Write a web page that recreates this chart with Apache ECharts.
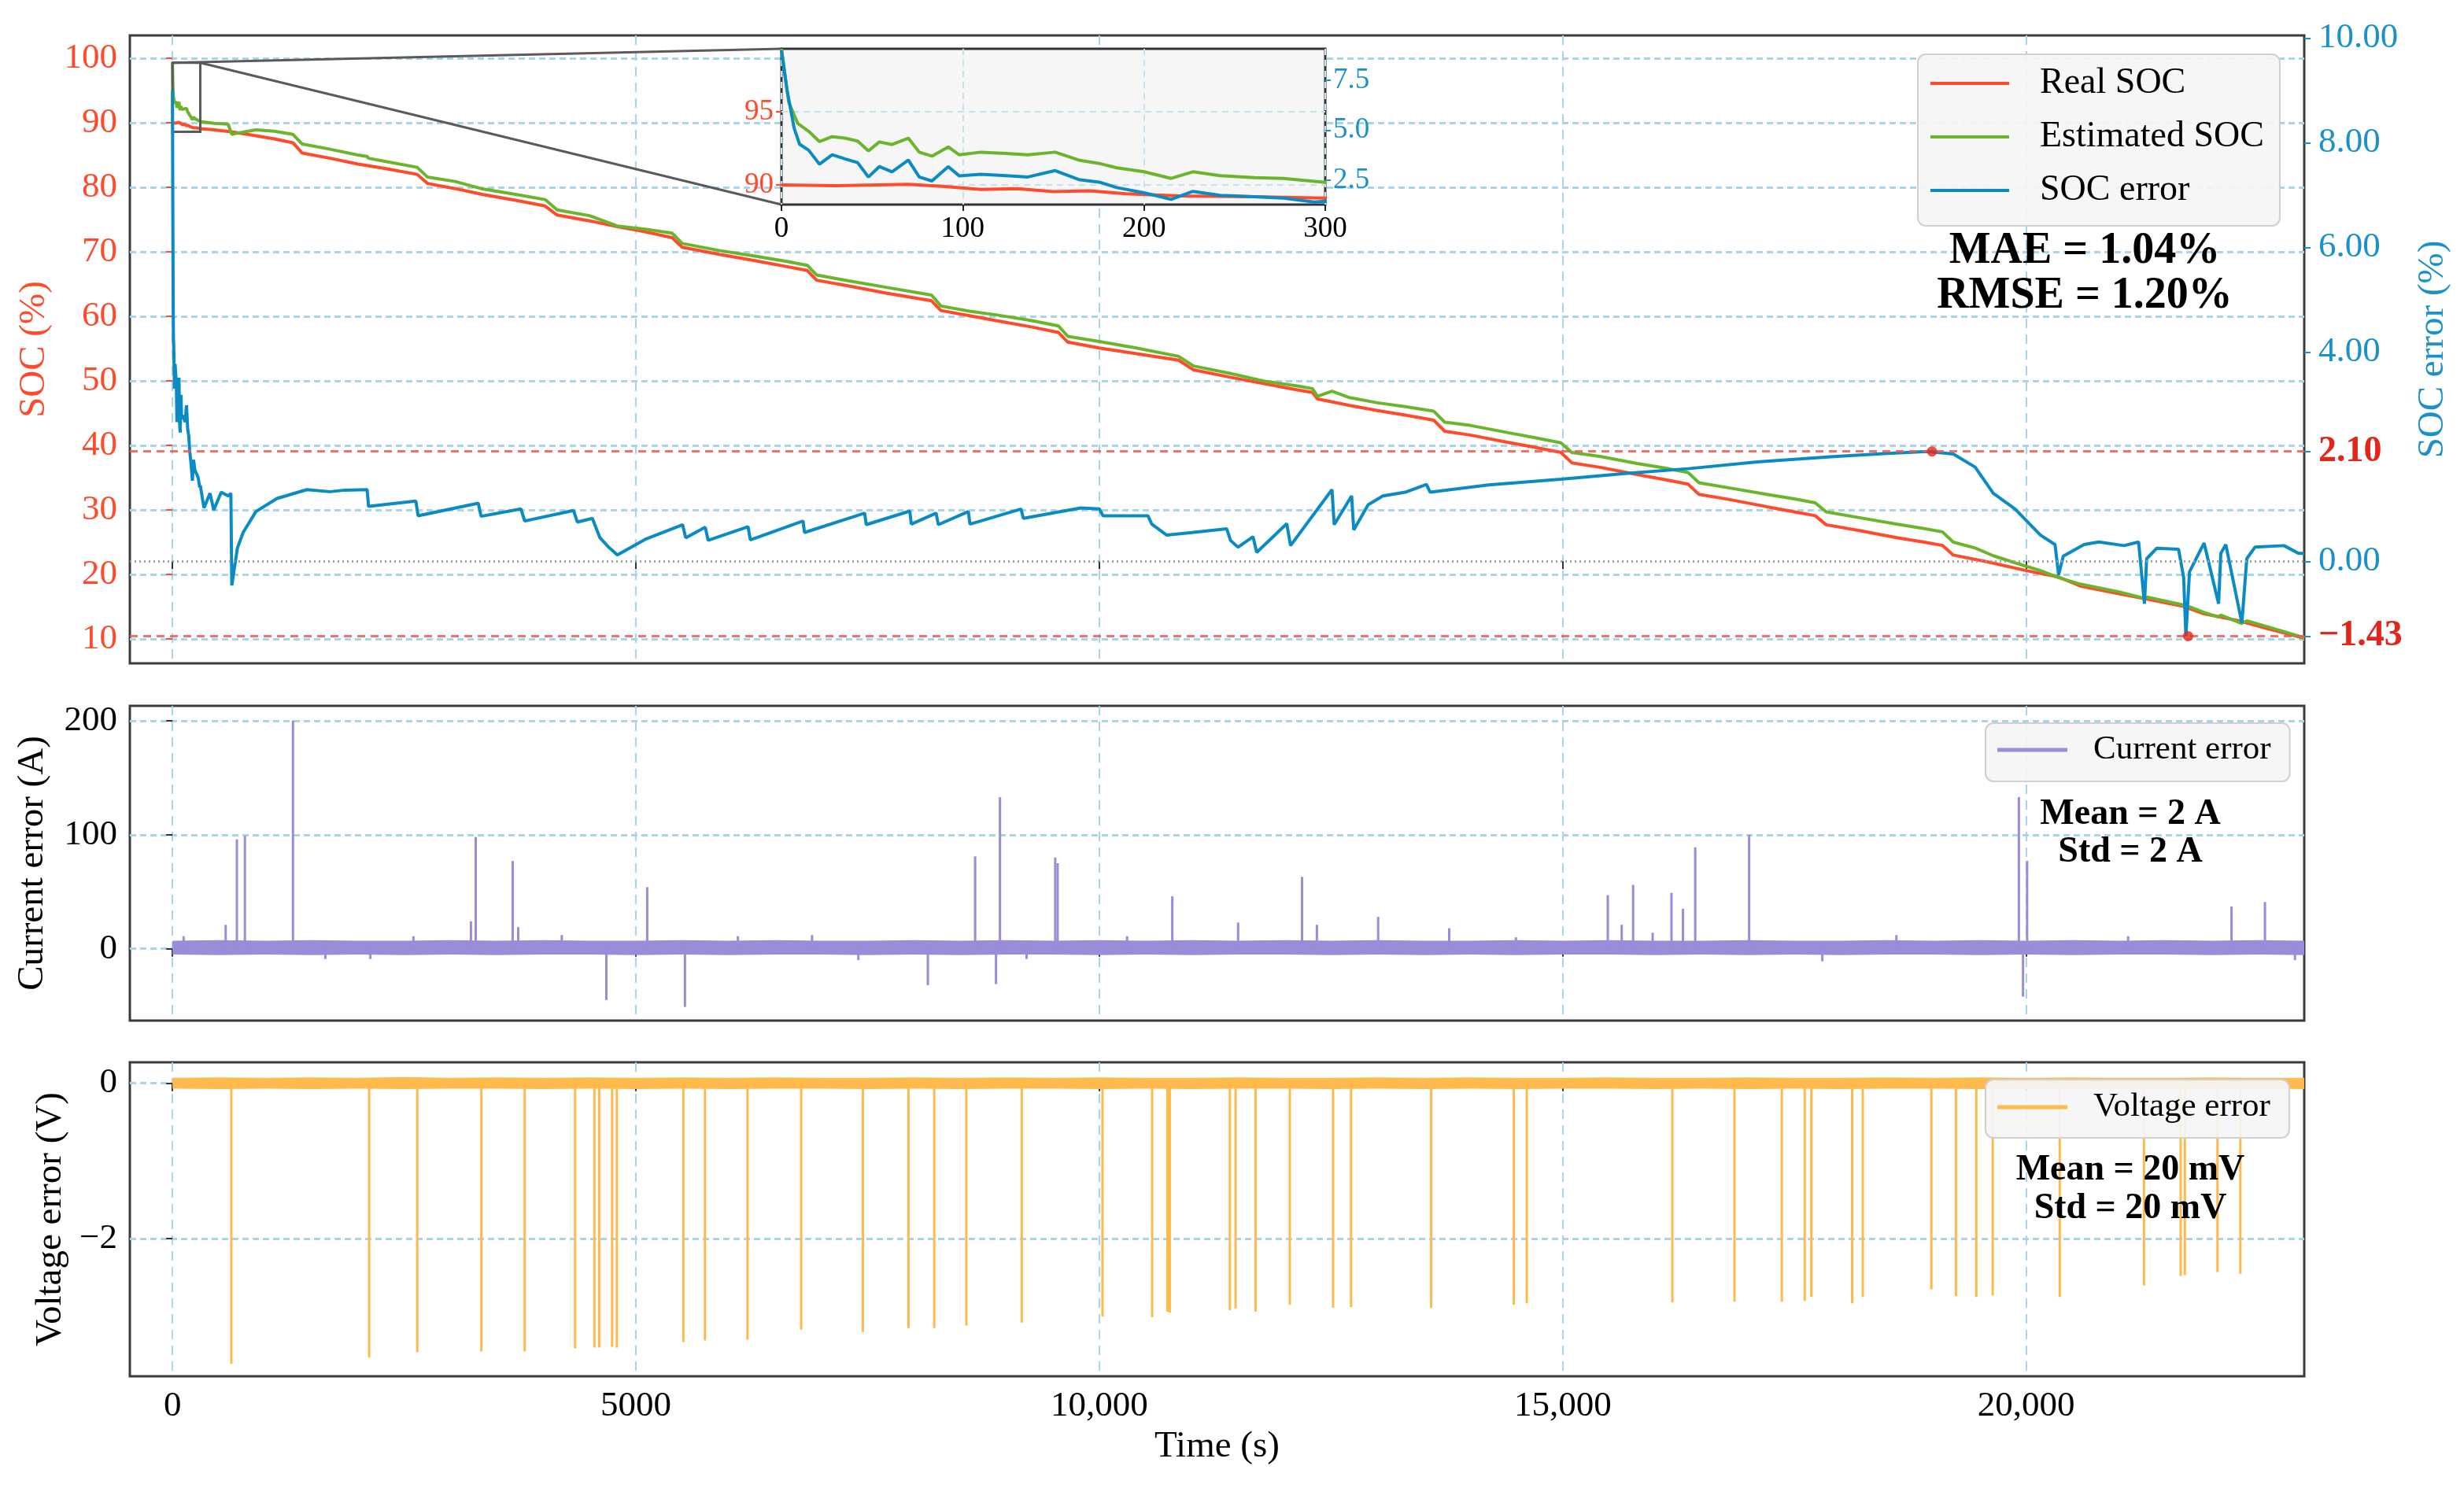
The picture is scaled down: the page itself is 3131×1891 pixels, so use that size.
<!DOCTYPE html>
<html>
<head>
<meta charset="utf-8">
<title>SOC estimation with sensor errors</title>
<script src="https://cdn.jsdelivr.net/npm/echarts@6.0.0/dist/echarts.min.js"></script>
<style>
  html, body { margin: 0; padding: 0; background: #fff; }
  #chart { width: 3131px; height: 1891px; }
</style>
</head>
<body>
<div id="chart"></div>
<script>
const FONT = '"Liberation Serif", "Times New Roman", serif';
const RED = '#FF4A2B', GREEN = '#6BB52C', BLUE = '#0B8BC4';
const PURPLE = '#9A8CD9', ORANGE = '#FFBA4E';
const LABEL_RED = '#FF4A2B', LABEL_BLUE = '#1A92C9', MARK_RED = '#E3261C';
const GRID_BLUE = '#A9D5EC';

// tick values
const timeTicks = [0, 5000, 10000, 15000, 20000];
const socTicks = [10, 20, 30, 40, 50, 60, 70, 80, 90, 100];
const errorTicks = [10, 8, 6, 4, 2.1, 0, -1.43];
const currentTicks = [0, 100, 200];
const voltageTicks = [0, -2];
const insetSocTicks = [90, 95];
const insetErrorTicks = [2.5, 5.0, 7.5];

// [time s, SOC %]
const realSoc = [[0,90.0],[30,89.95],[70,90.05],[90,89.9],[110,89.7],[130,89.75],[150,89.55],[170,89.6],[190,89.4],[220,89.25],[260,89.2],[300,89.1],[450,88.9],[636,88.6],[900,88.0],[1100,87.5],[1300,86.9],[1400,85.3],[1700,84.5],[2000,83.6],[2300,82.9],[2640,82.0],[2750,80.6],[3050,79.8],[3341,78.9],[3700,78.0],[4020,77.1],[4150,75.7],[4500,74.8],[4800,73.9],[5100,73.1],[5390,72.2],[5500,70.7],[5900,69.6],[6260,68.7],[6630,67.7],[6850,67.1],[6950,65.6],[7300,64.7],[7700,63.6],[8190,62.4],[8290,60.9],[8600,60.1],[8900,59.3],[9250,58.4],[9560,57.5],[9660,56.0],[10000,55.1],[10400,54.2],[10856,53.2],[11017,51.7],[11400,50.6],[11800,49.5],[12136,48.6],[12300,48.2],[12354,47.2],[12700,46.2],[13000,45.4],[13300,44.7],[13608,43.9],[13726,42.2],[14000,41.6],[14400,40.5],[14700,39.7],[14980,38.9],[15097,37.3],[15400,36.6],[15800,35.5],[16100,34.7],[16352,34.0],[16470,32.4],[16800,31.6],[17200,30.5],[17500,29.7],[17724,29.1],[17842,27.7],[18200,26.8],[18600,25.7],[18900,25.0],[19096,24.5],[19214,23.0],[19600,21.9],[20000,20.6],[20350,19.6],[20585,18.2],[21000,17.0],[21300,16.2],[21684,15.1],[21919,13.9],[22300,12.8],[22600,11.6],[23000,10.1]];

const estimatedSoc = [[0,99.3],[4,95.65],[9,94.2],[15,93.67],[21,92.96],[28,93.3],[35,93.2],[42,93.0],[48,92.33],[54,92.94],[61,92.76],[70,93.2],[76,92.24],[83,91.97],[92,92.6],[98,92.06],[110,92.24],[124,92.15],[136,92.06],[151,92.24],[164,91.7],[176,91.45],[185,91.17],[200,90.9],[215,90.45],[227,90.9],[242,90.63],[261,90.5],[277,90.45],[300,90.18],[450,89.9],[600,89.8],[640,88.2],[700,88.4],[900,88.9],[1100,88.7],[1300,88.2],[1400,86.7],[1700,85.9],[2000,85.0],[2100,84.8],[2115,84.5],[2300,84.0],[2640,83.1],[2750,81.6],[3050,80.9],[3330,79.8],[3700,78.9],[4020,78.1],[4150,76.5],[4500,75.6],[4800,74.0],[5100,73.5],[5390,72.9],[5500,71.3],[5900,70.2],[6260,69.4],[6630,68.5],[6850,67.9],[6950,66.4],[7300,65.5],[7700,64.5],[8190,63.3],[8290,61.6],[8600,60.8],[8900,60.2],[9250,59.4],[9560,58.5],[9660,56.9],[10000,56.1],[10400,55.1],[10856,53.8],[11017,52.3],[11400,51.2],[11800,49.9],[12136,49.2],[12300,48.8],[12354,47.6],[12510,48.4],[12700,47.4],[13000,46.6],[13300,46.0],[13608,45.3],[13726,43.6],[14000,43.1],[14400,42.0],[14700,41.2],[14980,40.4],[15097,38.9],[15400,38.3],[15800,37.2],[16100,36.5],[16352,35.8],[16470,34.2],[16800,33.4],[17200,32.4],[17500,31.7],[17724,31.1],[17842,29.7],[18200,28.8],[18600,27.8],[18900,27.1],[19096,26.6],[19214,25.0],[19449,24.1],[19645,22.9],[19880,21.8],[20155,20.6],[20350,19.5],[20585,18.5],[21000,17.3],[21276,16.3],[21300,16.5],[21684,15.3],[21723,14.6],[21762,15.0],[21919,14.1],[22076,13.4],[22100,13.7],[22327,12.4],[22380,12.8],[22600,11.9],[23000,10.2]];

// [time s, SOC error %]
const socError = [[0,9.0],[3,7.05],[7,5.1],[10,4.3],[15,4.0],[21,3.3],[28,3.77],[35,3.57],[42,3.38],[48,2.66],[54,3.18],[61,2.92],[70,3.51],[76,2.66],[83,2.46],[92,3.18],[98,2.72],[110,2.79],[124,2.73],[136,2.66],[151,2.98],[164,2.53],[176,2.39],[185,2.13],[200,1.87],[215,1.54],[227,1.94],[242,1.74],[261,1.67],[277,1.6],[294,1.41],[300,1.45],[340,1.02],[405,1.30],[445,0.98],[526,1.32],[600,1.25],[630,1.30],[640,-0.46],[700,0.25],[762,0.55],[900,0.95],[1127,1.2],[1450,1.37],[1700,1.33],[1856,1.36],[2100,1.37],[2115,1.05],[2626,1.15],[2650,0.87],[3299,1.11],[3330,0.86],[3760,1.0],[3800,0.77],[4327,0.97],[4368,0.75],[4530,0.82],[4612,0.45],[4700,0.28],[4800,0.12],[5100,0.42],[5504,0.70],[5537,0.45],[5748,0.65],[5780,0.40],[6210,0.66],[6235,0.41],[6803,0.77],[6819,0.55],[7468,0.92],[7485,0.70],[7955,0.96],[7971,0.71],[8239,0.92],[8263,0.70],[8587,0.95],[8604,0.71],[9155,1.0],[9180,0.82],[9800,1.02],[10000,1.0],[10040,0.87],[10525,0.87],[10566,0.71],[10728,0.50],[11000,0.55],[11375,0.62],[11415,0.40],[11496,0.27],[11658,0.47],[11698,0.17],[12022,0.72],[12063,0.30],[12510,1.37],[12534,0.70],[12722,1.25],[12745,0.60],[12900,1.08],[13059,1.25],[13300,1.32],[13530,1.47],[13569,1.32],[14200,1.46],[14980,1.57],[15700,1.68],[16352,1.77],[17100,1.90],[17920,2.0],[18500,2.06],[18940,2.10],[19214,2.05],[19449,1.80],[19645,1.30],[19880,1.0],[20155,0.50],[20311,0.32],[20350,-0.26],[20400,0.10],[20625,0.32],[20782,0.37],[21056,0.30],[21213,0.37],[21276,-0.81],[21300,0.05],[21409,0.25],[21644,0.23],[21699,-0.31],[21723,-1.43],[21762,-0.20],[21919,0.35],[22076,-0.81],[22100,0.15],[22154,0.32],[22327,-1.18],[22380,0.05],[22468,0.27],[22782,0.30],[22938,0.15],[23000,0.15]];

// max / min SOC error markers
const errorExtremes = [[18984, 2.10], [21747, -1.43]];

// zoomed region: [t0, soc0, t1, soc1]
const zoomBox = [[0, 88.6, 300, 99.3]];

// sensor noise envelope
const noiseTime = [0,500,1000,1500,2000,2500,3000,3500,4000,4500,5000,5500,6000,6500,7000,7500,8000,8500,9000,9500,10000,10500,11000,11500,12000,12500,13000,13500,14000,14500,15000,15500,16000,16500,17000,17500,18000,18500,19000,19500,20000,20500,21000,21500,22000,22500,23000];
const currentHigh = [7,7.5,7,7.5,7,7,7.5,7,7.5,7, 7,7.5,7,7.5,7,7,7.5,7,7.5,7, 7.5,7,7.5,7,7.5,7,7.5,7,7,7.5, 7,7.5,7,7,7.5,7,7,7.5,7,7.5, 7,7.5,7,7.5,7,7.5,7];
const currentLow = [-5,-5.5,-5,-5.5,-5,-5.5,-5,-5.5,-5,-5, -5.5,-5,-5.5,-5,-5,-5.5,-5,-5.5,-5,-5, -5.5,-5,-5.5,-5,-5,-5.5,-5,-5.5,-5,-5.5, -5,-5,-5.5,-5,-5.5,-5,-5.5,-5,-5,-5.5, -5,-5.5,-5,-5,-5.5,-5,-5.5];
const voltageHigh = [0.07,0.075,0.07,0.075,0.07,0.08,0.07,0.075,0.07,0.075, 0.07,0.075,0.07,0.075,0.07,0.07,0.075,0.07,0.075,0.07, 0.075,0.07,0.07,0.075,0.07,0.07,0.075,0.07,0.075,0.07, 0.07,0.075,0.07,0.07,0.075,0.07,0.07,0.075,0.07,0.075, 0.07,0.075,0.07,0.07,0.075,0.07,0.07];
const voltageLow = [-0.07,-0.075,-0.07,-0.075,-0.07,-0.075,-0.07,-0.07,-0.075,-0.07, -0.075,-0.07,-0.075,-0.07,-0.07,-0.075,-0.07,-0.075,-0.07,-0.07, -0.075,-0.07,-0.075,-0.07,-0.07,-0.075,-0.07,-0.075,-0.07,-0.075, -0.07,-0.07,-0.075,-0.07,-0.075,-0.07,-0.075,-0.07,-0.07,-0.075, -0.07,-0.075,-0.07,-0.07,-0.075,-0.07,-0.075];

// [time s, current error A] (incl. small noise peaks)
const currentSpikes = [[120,11],[574,21],[695,96],[781,99],[1300,200],[1650,-9],[2135,-9],[2600,11],[3220,24],[3272,98],[3670,77],[3730,19],[4200,12],[4681,-45],[5122,54],[5529,-51],[6100,11],[6900,12],[7400,-10],[8150,-32],[8660,81],[8885,-31],[8928,133],[9215,-9],[9524,80],[9550,75],[10300,11],[10787,46],[11497,23],[12187,63],[12347,21],[13008,28],[13775,18],[14495,10],[15486,47],[15636,21],[15759,56],[15970,14],[16173,49],[16297,35],[16429,89],[17011,100],[17800,-11],[18600,12],[19921,133],[19966,-42],[20010,77],[21100,11],[22215,37],[22576,41],[22900,-10]];

// [time s, voltage error V]
const voltageSpikes = [[635,-3.61],[2122,-3.53],[2641,-3.46],[3332,-3.45],[3800,-3.45],[4344,-3.41],[4552,-3.40],[4604,-3.40],[4743,-3.39],[4794,-3.40],[5512,-3.33],[5745,-3.31],[6204,-3.30],[6783,-3.17],[7449,-3.20],[7941,-3.15],[8219,-3.15],[8565,-3.12],[9163,-3.08],[10034,-3.00],[10570,-3.01],[10735,-2.94],[10760,-2.95],[11408,-2.92],[11470,-2.90],[11685,-2.94],[12055,-2.85],[12522,-2.89],[12716,-2.88],[13580,-2.89],[14471,-2.85],[14612,-2.83],[16182,-2.82],[16853,-2.81],[17364,-2.81],[17610,-2.80],[17682,-2.75],[18122,-2.83],[18237,-2.75],[18977,-2.65],[19242,-2.74],[19462,-2.75],[19639,-2.73],[20362,-2.75],[21271,-2.60],[21667,-2.48],[21712,-2.47],[22064,-2.43],[22311,-2.45]];

// layout
const PLOT_LEFT = 165, PLOT_WIDTH = 2763;
const INSET = { left: 993, top: 62, width: 691, height: 198 };

function minus(v, digits) {
  const s = Math.abs(v).toFixed(digits);
  return v < 0 ? '\u2212' + s : s;
}
function timeLabel(v) {
  return v >= 10000 ? v.toLocaleString('en-US') : String(v);
}

function bandRenderer(lows, highs) {
  return function (params, api) {
    const upper = noiseTime.map((t, i) => api.coord([t, highs[i]]));
    const lower = noiseTime.map((t, i) => api.coord([t, lows[i]])).reverse();
    return { type: 'polygon', shape: { points: upper.concat(lower) }, style: { fill: api.visual('color') } };
  };
}
function spikeRenderer(params, api) {
  const base = api.coord([api.value(0), 0]);
  const tip = api.coord([api.value(0), api.value(1)]);
  return { type: 'line', shape: { x1: base[0], y1: base[1], x2: tip[0], y2: tip[1] },
           style: { stroke: api.visual('color'), lineWidth: 3 } };
}
function zoomBoxRenderer(params, api) {
  const tl = api.coord([api.value(0), api.value(3)]);
  const br = api.coord([api.value(2), api.value(1)]);
  const st = { stroke: '#5a5a5a', lineWidth: 3, fill: 'none' };
  return { type: 'group', children: [
    { type: 'rect', shape: { x: tl[0], y: tl[1], width: br[0] - tl[0], height: br[1] - tl[1] }, style: st },
    { type: 'line', shape: { x1: tl[0], y1: tl[1], x2: INSET.left, y2: INSET.top }, style: st },
    { type: 'line', shape: { x1: br[0], y1: tl[1], x2: INSET.left, y2: INSET.top + INSET.height }, style: st }
  ] };
}

function frame(top, height, extra) {
  return Object.assign({ left: PLOT_LEFT, width: PLOT_WIDTH, top: top, height: height, show: true,
    backgroundColor: '#fff', borderColor: '#3a3a3a', borderWidth: 3, containLabel: false, outerBoundsMode: 'none' }, extra || {});
}
function timeAxis(gridIndex, showLabels) {
  return {
    gridIndex: gridIndex, type: 'value', min: -460, max: 23000,
    axisLine: { show: false },
    axisTick: { show: true, customValues: timeTicks, length: 10, lineStyle: { color: '#333', width: 2 } },
    axisLabel: { show: showLabels, customValues: timeTicks, formatter: timeLabel, color: '#000',
                 fontSize: 45, fontFamily: FONT, margin: 16 },
    splitLine: { show: true, lineStyle: { color: GRID_BLUE, width: 2, type: [12, 8] } },
    name: showLabels ? 'Time (s)' : '', nameLocation: 'middle', nameGap: 66,
    nameTextStyle: { color: '#000', fontSize: 47, fontFamily: FONT }
  };
}
const hSplit = { show: true, lineStyle: { color: GRID_BLUE, width: 3, type: [8, 5] } };
const legendBox = {
  orient: 'vertical', selectedMode: false,
  backgroundColor: 'rgba(245,245,245,0.92)', borderColor: '#d0d0d0', borderWidth: 2, borderRadius: 10
};

const chart = echarts.init(document.getElementById('chart'), null, { renderer: 'canvas' });

chart.setOption({
  animation: false,
  backgroundColor: '#fff',
  textStyle: { fontFamily: FONT },
  grid: [
    frame(45, 798),
    frame(897, 400),
    frame(1350, 399),
    { left: INSET.left, top: INSET.top, width: INSET.width, height: INSET.height, show: true,
      backgroundColor: '#f6f6f6', borderColor: '#333', borderWidth: 3, z: 5, containLabel: false, outerBoundsMode: 'none' }
  ],
  xAxis: [
    timeAxis(0, false),
    timeAxis(1, false),
    timeAxis(2, true),
    { gridIndex: 3, type: 'value', min: 0, max: 300, interval: 100, z: 6,
      axisLine: { show: false },
      axisTick: { show: true, length: 8, lineStyle: { color: '#222', width: 2 } },
      axisLabel: { color: '#000', fontSize: 37, fontFamily: FONT, margin: 13 },
      splitLine: { show: true, lineStyle: { color: '#C6E2F1', width: 2, type: [8, 6] } } }
  ],
  yAxis: [
    { gridIndex: 0, type: 'value', min: 6.22, max: 103.54, position: 'left',
      axisLine: { show: false },
      axisTick: { show: true, customValues: socTicks, length: 8, lineStyle: { color: LABEL_RED, width: 2 } },
      axisLabel: { customValues: socTicks, color: LABEL_RED, fontSize: 45, fontFamily: FONT, margin: 16 },
      splitLine: hSplit,
      name: 'SOC (%)', nameLocation: 'middle', nameGap: 98,
      nameTextStyle: { color: LABEL_RED, fontSize: 47, fontFamily: FONT } },
    { gridIndex: 0, type: 'value', min: -1.95, max: 10.05, position: 'right',
      axisLine: { show: false },
      axisTick: { show: true, customValues: errorTicks, length: 8, lineStyle: { color: LABEL_BLUE, width: 2 } },
      axisLabel: { customValues: errorTicks, color: LABEL_BLUE, fontSize: 45, fontFamily: FONT, margin: 18,
        formatter: function (v) {
          const s = minus(v, 2);
          return (v === 2.1 || v === -1.43) ? '{hl|' + s + '}' : s;
        },
        rich: { hl: { color: MARK_RED, fontWeight: 'bold', fontSize: 46, fontFamily: FONT } } },
      splitLine: { show: false },
      name: 'SOC error (%)', nameLocation: 'middle', nameGap: 140,
      nameTextStyle: { color: LABEL_BLUE, fontSize: 47, fontFamily: FONT } },
    { gridIndex: 1, type: 'value', min: -63, max: 213,
      axisLine: { show: false },
      axisTick: { show: true, customValues: currentTicks, length: 8, lineStyle: { color: '#333', width: 2 } },
      axisLabel: { customValues: currentTicks, color: '#000', fontSize: 45, fontFamily: FONT, margin: 16 },
      splitLine: hSplit,
      name: 'Current error (A)', nameLocation: 'middle', nameGap: 100,
      nameTextStyle: { color: '#000', fontSize: 47, fontFamily: FONT } },
    { gridIndex: 2, type: 'value', min: -3.77, max: 0.27,
      axisLine: { show: false },
      axisTick: { show: true, customValues: voltageTicks, length: 8, lineStyle: { color: '#333', width: 2 } },
      axisLabel: { customValues: voltageTicks, color: '#000', fontSize: 45, fontFamily: FONT, margin: 16,
                   formatter: v => minus(v, 0) },
      splitLine: hSplit,
      name: 'Voltage error (V)', nameLocation: 'middle', nameGap: 77,
      nameTextStyle: { color: '#000', fontSize: 47, fontFamily: FONT } },
    { gridIndex: 3, type: 'value', min: 88.66, max: 99.3, position: 'left', z: 6,
      axisLine: { show: false },
      axisTick: { show: true, customValues: insetSocTicks, length: 7, lineStyle: { color: LABEL_RED, width: 2 } },
      axisLabel: { customValues: insetSocTicks, color: LABEL_RED, fontSize: 37, fontFamily: FONT, margin: 10 },
      splitLine: { show: true, lineStyle: { color: '#C6E2F1', width: 2, type: [8, 6] } } },
    { gridIndex: 3, type: 'value', min: 1.28, max: 9.07, position: 'right', z: 6,
      axisLine: { show: false },
      axisTick: { show: true, customValues: insetErrorTicks, length: 7, lineStyle: { color: LABEL_BLUE, width: 2 } },
      axisLabel: { customValues: insetErrorTicks, color: LABEL_BLUE, fontSize: 37, fontFamily: FONT, margin: 10,
                   formatter: v => v.toFixed(1) },
      splitLine: { show: false } }
  ],
  legend: [
    Object.assign({ left: 2437, top: 69,
      data: [{ name: 'Real SOC', icon: 'rect' }, { name: 'Estimated SOC', icon: 'rect' }, { name: 'SOC error', icon: 'rect' }],
      itemWidth: 100, itemHeight: 4, itemGap: 18, padding: [12, 20, 20, 16],
      textStyle: { fontSize: 46, fontFamily: FONT, color: '#000', lineHeight: 50, padding: [0, 0, 0, 34] } }, legendBox),
    Object.assign({ left: 2523, top: 919,
      data: [{ name: 'Current error', icon: 'rect' }],
      itemWidth: 89, itemHeight: 5, padding: [11, 24, 17, 15],
      textStyle: { fontSize: 43, fontFamily: FONT, color: '#000', lineHeight: 46, padding: [0, 0, 0, 28] } }, legendBox),
    Object.assign({ left: 2523, top: 1372,
      data: [{ name: 'Voltage error', icon: 'rect' }],
      itemWidth: 89, itemHeight: 5, padding: [12, 24, 16, 15],
      textStyle: { fontSize: 43, fontFamily: FONT, color: '#000', lineHeight: 46, padding: [0, 0, 0, 28] } }, legendBox)
  ],
  graphic: [
    { type: 'text', x: 2649, y: 320, z: 100, style: { text: 'MAE = 1.04%', fill: '#000',
      font: 'bold 56px ' + FONT, align: 'center', verticalAlign: 'middle' } },
    { type: 'text', x: 2649, y: 377, z: 100, style: { text: 'RMSE = 1.20%', fill: '#000',
      font: 'bold 56px ' + FONT, align: 'center', verticalAlign: 'middle' } },
    { type: 'text', x: 2707, y: 1035, z: 100, style: { text: 'Mean = 2 A', fill: '#000',
      font: 'bold 46px ' + FONT, align: 'center', verticalAlign: 'middle' } },
    { type: 'text', x: 2707, y: 1083, z: 100, style: { text: 'Std = 2 A', fill: '#000',
      font: 'bold 46px ' + FONT, align: 'center', verticalAlign: 'middle' } },
    { type: 'text', x: 2707, y: 1487, z: 100, style: { text: 'Mean = 20 mV', fill: '#000',
      font: 'bold 46px ' + FONT, align: 'center', verticalAlign: 'middle' } },
    { type: 'text', x: 2707, y: 1536, z: 100, style: { text: 'Std = 20 mV', fill: '#000',
      font: 'bold 46px ' + FONT, align: 'center', verticalAlign: 'middle' } }
  ],
  series: [
    { name: 'Real SOC', type: 'line', xAxisIndex: 0, yAxisIndex: 0, data: realSoc, symbol: 'none',
      color: RED, lineStyle: { color: RED, width: 4 }, z: 3 },
    { name: 'Estimated SOC', type: 'line', xAxisIndex: 0, yAxisIndex: 0, data: estimatedSoc, symbol: 'none',
      color: GREEN, lineStyle: { color: GREEN, width: 4 }, z: 3 },
    { name: 'SOC error', type: 'line', xAxisIndex: 0, yAxisIndex: 1, data: socError, symbol: 'none',
      color: BLUE, lineStyle: { color: BLUE, width: 4 }, z: 4 },
    { name: 'extremes', type: 'scatter', xAxisIndex: 0, yAxisIndex: 1, data: errorExtremes,
      symbolSize: 13, itemStyle: { color: MARK_RED }, z: 5,
      markLine: { silent: true, symbol: ['none', 'none'], label: { show: false },
        data: [
          { yAxis: 2.1, lineStyle: { color: '#EC5A50', width: 3, type: [10, 7], opacity: 0.85 } },
          { yAxis: -1.43, lineStyle: { color: '#EC5A50', width: 3, type: [10, 7], opacity: 0.85 } },
          { yAxis: 0, lineStyle: { color: '#9a9a9a', width: 3, type: [2, 4], opacity: 0.9 } }
        ] } },
    { name: 'zoom box', type: 'custom', xAxisIndex: 0, yAxisIndex: 0, data: zoomBox,
      renderItem: zoomBoxRenderer, z: 4, silent: true },

    { name: 'Real SOC', type: 'line', xAxisIndex: 3, yAxisIndex: 4, data: realSoc, symbol: 'none',
      color: RED, lineStyle: { color: RED, width: 4 }, z: 7 },
    { name: 'Estimated SOC', type: 'line', xAxisIndex: 3, yAxisIndex: 4, data: estimatedSoc, symbol: 'none',
      color: GREEN, lineStyle: { color: GREEN, width: 4 }, z: 7 },
    { name: 'SOC error', type: 'line', xAxisIndex: 3, yAxisIndex: 5, data: socError, symbol: 'none',
      color: BLUE, lineStyle: { color: BLUE, width: 4 }, z: 8 },

    { name: 'current noise', type: 'custom', xAxisIndex: 1, yAxisIndex: 2, data: [[0, 0]],
      renderItem: bandRenderer(currentLow, currentHigh), itemStyle: { color: PURPLE }, z: 3, silent: true },
    { name: 'Current error', type: 'custom', xAxisIndex: 1, yAxisIndex: 2, data: currentSpikes,
      renderItem: spikeRenderer, itemStyle: { color: PURPLE }, z: 3, silent: true },
    { name: 'voltage noise', type: 'custom', xAxisIndex: 2, yAxisIndex: 3, data: [[0, 0]],
      renderItem: bandRenderer(voltageLow, voltageHigh), itemStyle: { color: ORANGE }, z: 3, silent: true },
    { name: 'Voltage error', type: 'custom', xAxisIndex: 2, yAxisIndex: 3, data: voltageSpikes,
      renderItem: spikeRenderer, itemStyle: { color: ORANGE }, z: 3, silent: true }
  ]
});
</script>
</body>
</html>
